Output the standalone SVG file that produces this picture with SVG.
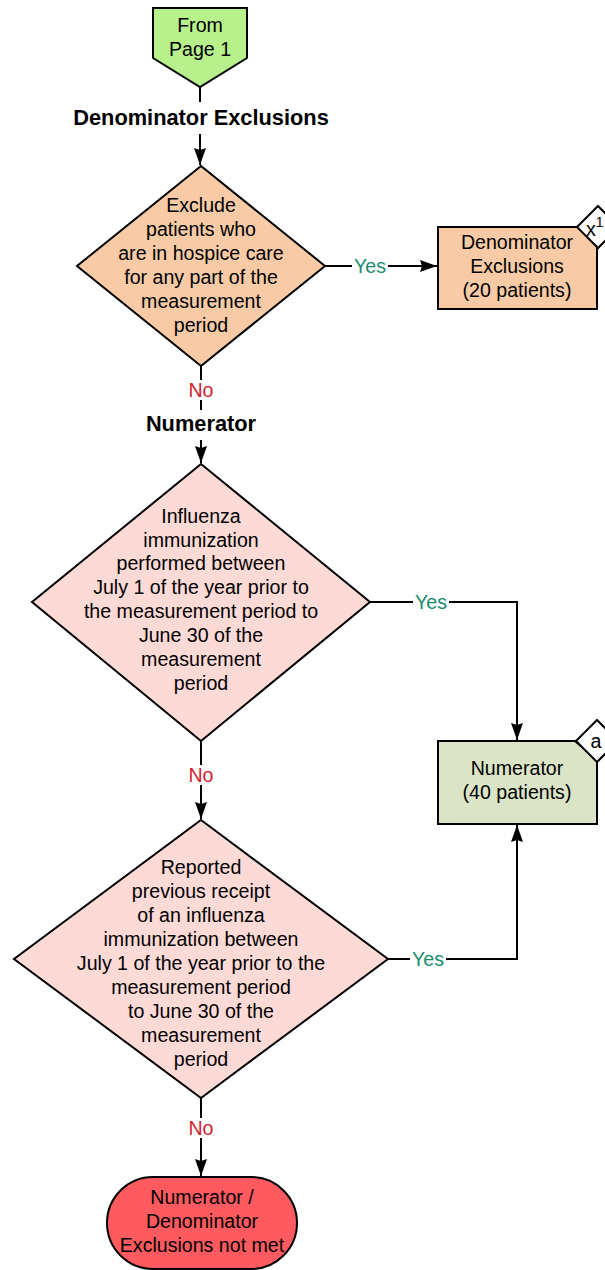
<svg xmlns="http://www.w3.org/2000/svg" width="605" height="1270" viewBox="0 0 605 1270">
<defs>
<marker id="arr" markerWidth="18" markerHeight="14" refX="17" refY="6" orient="auto" markerUnits="userSpaceOnUse">
<path d="M0,0 L17,6 L0,12 L2,6 z" fill="#000"/>
</marker>
<style>
.s{stroke:#000;stroke-width:2}
.t{font-family:"Liberation Sans",Arial,sans-serif;font-size:19.6px;fill:#000;text-anchor:middle}
.h{font-family:"Liberation Sans",Arial,sans-serif;font-size:21.8px;font-weight:bold;fill:#000;text-anchor:middle}
.y{font-family:"Liberation Sans",Arial,sans-serif;font-size:19.6px;fill:#1a8c6e;text-anchor:middle}
.n{font-family:"Liberation Sans",Arial,sans-serif;font-size:19.6px;fill:#d0202e;text-anchor:middle}
.c{fill:none;stroke:#000;stroke-width:2}
</style>
</defs>
<rect width="605" height="1270" fill="#fff"/>
<g id="connectors">
<path class="c" d="M200,87 V102"/>
<path class="c" d="M200,134 V165" marker-end="url(#arr)"/>
<path class="c" d="M325,266 H437" marker-end="url(#arr)"/>
<path class="c" d="M201,366 V380"/>
<path class="c" d="M201,400 V410"/>
<path class="c" d="M201,440 V463" marker-end="url(#arr)"/>
<path class="c" d="M370,602 H517 V740" marker-end="url(#arr)"/>
<path class="c" d="M201,741 V819" marker-end="url(#arr)"/>
<path class="c" d="M388,959 H517 V825" marker-end="url(#arr)"/>
<path class="c" d="M201,1098 V1176" marker-end="url(#arr)"/>
<rect x="352" y="256" width="36" height="20" fill="#fff"/>
<text class="y" x="370" y="273">Yes</text>
<rect x="186" y="380" width="30" height="20" fill="#fff"/>
<text class="n" x="201" y="397">No</text>
<rect x="413" y="592" width="36" height="20" fill="#fff"/>
<text class="y" x="431" y="609">Yes</text>
<rect x="186" y="765" width="30" height="20" fill="#fff"/>
<text class="n" x="201" y="782">No</text>
<rect x="410" y="949" width="36" height="20" fill="#fff"/>
<text class="y" x="428" y="966">Yes</text>
<rect x="186" y="1118" width="30" height="20" fill="#fff"/>
<text class="n" x="201" y="1135">No</text>
</g>
<g id="from-page-1">
<path class="s" d="M153,8 H247 V58 L200,87 L153,58 Z" fill="#b8f08c"/>
<text class="t" x="200" y="32">From</text>
<text class="t" x="200" y="56">Page 1</text>
</g>
<g id="denom-header">
<text class="h" x="201" y="125">Denominator Exclusions</text>
</g>
<g id="hospice-decision">
<path class="s" d="M201,166 L325,266 L201,366 L77,266 Z" fill="#f8cba6"/>
<text class="t" x="201" y="212">Exclude</text>
<text class="t" x="201" y="236">patients who</text>
<text class="t" x="201" y="260">are in hospice care</text>
<text class="t" x="201" y="284">for any part of the</text>
<text class="t" x="201" y="308">measurement</text>
<text class="t" x="201" y="332">period</text>
</g>
<g id="denom-exclusions">
<path class="s" d="M438,227 H578 L597,244 V309 H438 Z" fill="#f8cba6"/>
<text class="t" x="517" y="249">Denominator</text>
<text class="t" x="517" y="273">Exclusions</text>
<text class="t" x="517" y="297">(20 patients)</text>
<path class="s" d="M598,206 L619,227 L598,248 L577,227 Z" fill="#fff"/>
<text class="t" x="586" y="236" style="text-anchor:start">x<tspan dy="-9" font-size="14px">1</tspan></text>
</g>
<g id="numer-header">
<text class="h" x="201" y="431">Numerator</text>
</g>
<g id="immunization-decision">
<path class="s" d="M201,464 L370,602 L201,741 L32,602 Z" fill="#fddad6"/>
<text class="t" x="201" y="523">Influenza</text>
<text class="t" x="201" y="547">immunization</text>
<text class="t" x="201" y="570">performed between</text>
<text class="t" x="201" y="594">July 1 of the year prior to</text>
<text class="t" x="201" y="618">the measurement period to</text>
<text class="t" x="201" y="642">June 30 of the</text>
<text class="t" x="201" y="666">measurement</text>
<text class="t" x="201" y="690">period</text>
</g>
<g id="numerator">
<path class="s" d="M438,741 H575 L597,760 V824 H438 Z" fill="#dce4c7"/>
<text class="t" x="517" y="775">Numerator</text>
<text class="t" x="517" y="799">(40 patients)</text>
<path class="s" d="M597,720 L618,741 L597,762 L576,741 Z" fill="#fff"/>
<text class="t" x="596" y="748">a</text>
</g>
<g id="reported-decision">
<path class="s" d="M201,820 L388,959 L201,1098 L14,959 Z" fill="#fddad6"/>
<text class="t" x="201" y="874">Reported</text>
<text class="t" x="201" y="898">previous receipt</text>
<text class="t" x="201" y="922">of an influenza</text>
<text class="t" x="201" y="946">immunization between</text>
<text class="t" x="201" y="970">July 1 of the year prior to the</text>
<text class="t" x="201" y="994">measurement period</text>
<text class="t" x="201" y="1018">to June 30 of the</text>
<text class="t" x="201" y="1042">measurement</text>
<text class="t" x="201" y="1066">period</text>
</g>
<g id="not-met">
<rect class="s" x="107" y="1177" width="190" height="92" rx="46" ry="46" fill="#fe5a5f"/>
<text class="t" x="202" y="1204">Numerator /</text>
<text class="t" x="202" y="1228">Denominator</text>
<text class="t" x="202" y="1252">Exclusions not met</text>
</g>
</svg>
